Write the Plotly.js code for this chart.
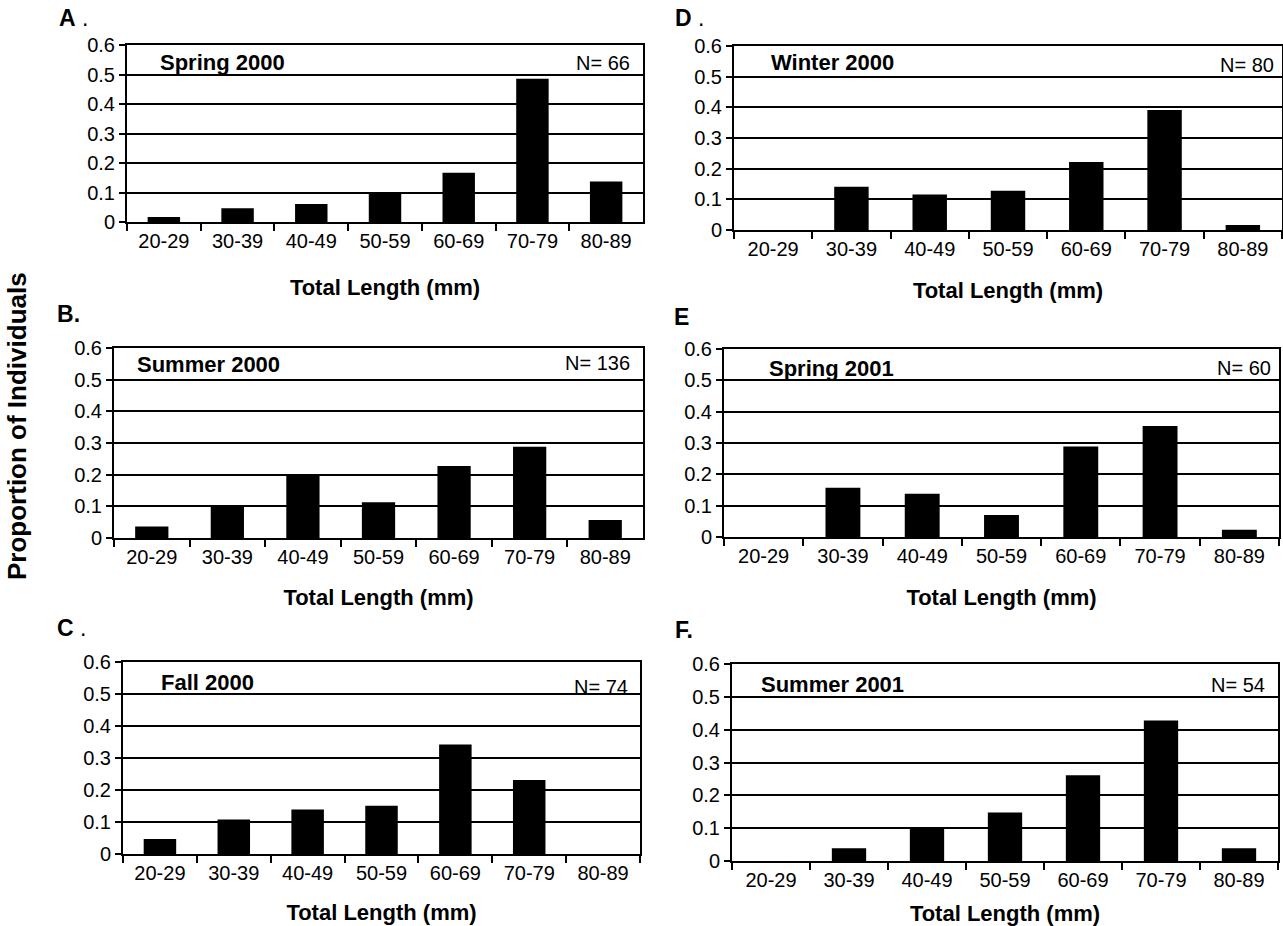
<!DOCTYPE html>
<html>
<head>
<meta charset="utf-8">
<script src="https://cdn.plot.ly/plotly-3.0.1.min.js"></script>
<style>
html,body{margin:0;padding:0;background:#fff;}
#chart{width:1283px;height:926px;}
</style>
</head>
<body>
<div id="chart"></div>
<script>
// ---- data ----
const categories = ['20-29','30-39','40-49','50-59','60-69','70-79','80-89'];
const spring2000 = [0.017, 0.047, 0.061, 0.098, 0.167, 0.486, 0.137];
const summer2000 = [0.036, 0.100, 0.200, 0.113, 0.227, 0.288, 0.057];
const fall2000   = [0.047, 0.108, 0.139, 0.151, 0.342, 0.231, 0];
const winter2000 = [0, 0.141, 0.116, 0.128, 0.222, 0.391, 0.016];
const spring2001 = [0, 0.157, 0.138, 0.070, 0.289, 0.354, 0.023];
const summer2001 = [0, 0.039, 0.100, 0.148, 0.261, 0.428, 0.039];
const seasonNames = ['Spring 2000','Summer 2000','Fall 2000','Winter 2000','Spring 2001','Summer 2001'];
const sampleSizes = [66, 136, 74, 80, 60, 54];
const panelLetters = ['A .','B.','C .','D .','E','F.'];
const yTickVals = [0, 0.1, 0.2, 0.3, 0.4, 0.5, 0.6];
const yTickText = ['0','0.1','0.2','0.3','0.4','0.5','0.6'];
const seriesList = [spring2000, summer2000, fall2000, winter2000, spring2001, summer2001];

// ---- layout geometry (pixels) ----
const W = 1283, H = 926;
const boxes = [
  {l:127, r:643, t:45,  b:222, letter:[57,18],  season:[158,62],  n:[632,63],  standoff:29},
  {l:114, r:643, t:348, b:538, letter:[55,314], season:[135,365], n:[632,363], standoff:23},
  {l:123, r:640, t:662, b:854, letter:[55,628], season:[159,682], n:[630,687], standoff:22},
  {l:734, r:1282,t:46,  b:230, letter:[673,18], season:[769,62],  n:[1276,65], standoff:24},
  {l:724, r:1279,t:349, b:537, letter:[672,317],season:[767,368], n:[1273,368],standoff:24},
  {l:732, r:1278,t:664, b:861, letter:[673,630],season:[759,684], n:[1267,685],standoff:16}
];
const FONT = 'Liberation Sans, Arial, Helvetica, sans-serif';
const px = x => x / W;
const py = y => 1 - y / H;

const data = [];
const layout = {
  width: W, height: H,
  margin: {l:0, r:0, t:0, b:0},
  paper_bgcolor: '#fff', plot_bgcolor: '#fff',
  showlegend: false,
  bargap: 0.56,
  font: {family: FONT, color: '#000', size: 20},
  annotations: []
};

seriesList.forEach((vals, i) => {
  const k = i + 1;
  const bx = boxes[i];
  data.push({
    type: 'bar', x: categories, y: vals,
    xaxis: 'x' + (k === 1 ? '' : k), yaxis: 'y' + (k === 1 ? '' : k),
    marker: {color: '#000', line: {width: 0}},
    hoverinfo: 'x+y'
  });
  layout['xaxis' + (k === 1 ? '' : k)] = {
    domain: [px(bx.l), px(bx.r)],
    anchor: 'y' + (k === 1 ? '' : k),
    type: 'category',
    tickson: 'boundaries',
    ticks: 'outside', ticklen: 7, tickwidth: 2, tickcolor: '#000',
    showline: true, linewidth: 2, linecolor: '#000', mirror: true,
    showgrid: false, zeroline: false,
    tickfont: {family: FONT, size: 20, color: '#000'},
    title: {text: '<b>Total Length (mm)</b>', font: {family: FONT, size: 22, color: '#000'}, standoff: bx.standoff},
    fixedrange: true
  };
  layout['yaxis' + (k === 1 ? '' : k)] = {
    domain: [py(bx.b), py(bx.t)],
    anchor: 'x' + (k === 1 ? '' : k),
    range: [0, 0.6],
    tickmode: 'array', tickvals: yTickVals, ticktext: yTickText,
    ticks: 'outside', ticklen: 6, tickwidth: 2, tickcolor: '#000',
    showline: true, linewidth: 2, linecolor: '#000', mirror: true,
    showgrid: true, gridcolor: '#000', gridwidth: 2,
    zeroline: false,
    tickfont: {family: FONT, size: 20, color: '#000'},
    fixedrange: true
  };
  layout.annotations.push({
    xref: 'paper', yref: 'paper', x: px(bx.season[0]), y: py(bx.season[1]),
    xanchor: 'left', yanchor: 'middle', showarrow: false,
    text: '<b>' + seasonNames[i] + '</b>',
    font: {family: FONT, size: 22, color: '#000'}
  });
  layout.annotations.push({
    xref: 'paper', yref: 'paper', x: px(bx.n[0]), y: py(bx.n[1]),
    xanchor: 'right', yanchor: 'middle', showarrow: false,
    text: 'N= ' + sampleSizes[i],
    font: {family: FONT, size: 20, color: '#000'}
  });
  const lt = panelLetters[i];
  const main = lt.replace(/[ .]/g, '');
  const rest = lt.slice(main.length);
  layout.annotations.push({
    xref: 'paper', yref: 'paper', x: px(bx.letter[0]), y: py(bx.letter[1]),
    xanchor: 'left', yanchor: 'middle', showarrow: false,
    text: '<b>' + main + '</b>' + (rest === '.' ? '<b>.</b>' : rest),
    font: {family: FONT, size: 23, color: '#000'}
  });
});

layout.annotations.push({
  xref: 'paper', yref: 'paper', x: px(17), y: py(426),
  xanchor: 'center', yanchor: 'middle', showarrow: false, textangle: -90,
  text: '<b>Proportion of Individuals</b>',
  font: {family: FONT, size: 26, color: '#000'}
});

Plotly.newPlot('chart', data, layout, {displayModeBar: false, staticPlot: true});
</script>
</body>
</html>
